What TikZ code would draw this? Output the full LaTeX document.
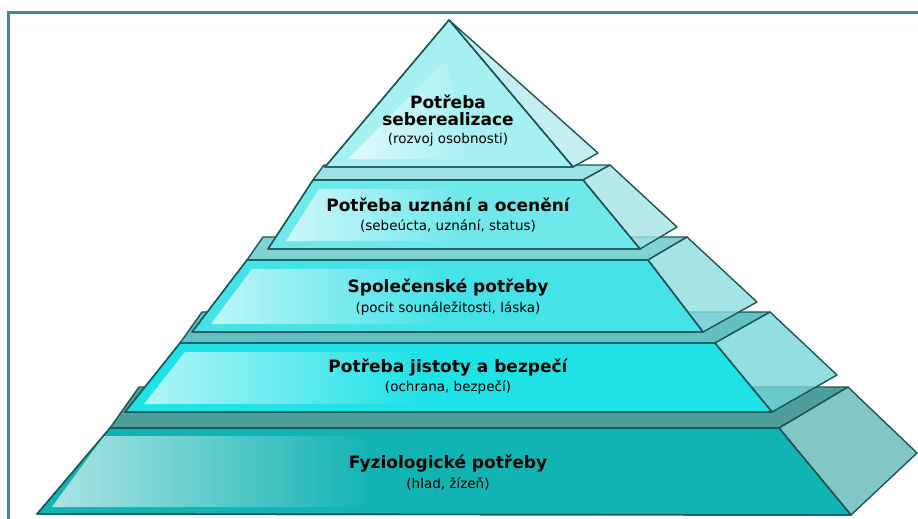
\documentclass[tikz,border=0pt]{standalone}
\usepackage{fontspec}
\usepackage{tikz}
\setmainfont{DejaVu Sans}
\definecolor{rim}{HTML}{1D5656}
\definecolor{framecol}{HTML}{3A8A9C}
\definecolor{frontA}{HTML}{12B3B3}
\definecolor{frontB}{HTML}{1FE2E6}
\definecolor{frontC}{HTML}{45E3E8}
\definecolor{frontD}{HTML}{6FE8EC}
\definecolor{frontE}{HTML}{A6F0F2}
\definecolor{sideA}{HTML}{5FB6B6}
\definecolor{sideB}{HTML}{72D6D8}
\definecolor{sideC}{HTML}{8ADCDE}
\definecolor{sideD}{HTML}{A3E2E4}
\definecolor{sideE}{HTML}{B3E9EB}
\definecolor{topA}{HTML}{4E9E9B}
\definecolor{topB}{HTML}{63C0C0}
\definecolor{topC}{HTML}{80D3D4}
\definecolor{topD}{HTML}{9DE2E4}

\begin{document}
\begin{tikzpicture}[x=1pt, y=-1pt,
  face/.style={draw=rim, line width=1.4pt, line join=round},
  side/.style={face, fill opacity=0.78},
  glow/.style={left color=#1!35!white, right color=#1},
  title/.style={font=\bfseries\fontsize{17}{17}\selectfont, align=center, inner sep=0pt},
  sub/.style={font=\fontsize{13.5}{15}\selectfont, inner sep=0pt},
  frame/.style={draw=framecol, line width=2.6pt}]
\useasboundingbox (0,0) rectangle (918,519);
\draw[frame] (8.5,519) -- (8.5,12.5) -- (918,12.5);

% level 1
\fill[face, fill=topA] (110,428) -- (779,428) -- (848,387) -- (139,387) -- cycle;
\fill[side, fill=sideA] (779,428) -- (851,515) -- (917,453) -- (848,387) -- cycle;
\fill[face, fill=frontA] (110,428) -- (779,428) -- (851,515) -- (37,514) -- cycle;
\shade[glow=frontA] (104,436) -- (370,436) -- (370,507) -- (52,507) -- cycle;
\draw[face] (110,428) -- (779,428) -- (851,515) -- (37,514) -- cycle;

% level 2
\fill[face, fill=topB] (180,343) -- (715,343) -- (770,312) -- (202,312) -- cycle;
\fill[side, fill=sideB] (715,343) -- (772,412) -- (837,375) -- (770,312) -- cycle;
\fill[face, fill=frontB] (180,343) -- (715,343) -- (772,412) -- (125,412) -- cycle;
\shade[glow=frontB] (185,352) -- (420,352) -- (420,404) -- (144,404) -- cycle;
\draw[face] (180,343) -- (715,343) -- (772,412) -- (125,412) -- cycle;

% level 3
\fill[face, fill=topC] (247,260) -- (648,260) -- (687,237) -- (263,237) -- cycle;
\fill[side, fill=sideC] (648,260) -- (703,332) -- (757,302) -- (687,237) -- cycle;
\fill[face, fill=frontC] (247,260) -- (648,260) -- (703,332) -- (192,332) -- cycle;
\shade[glow=frontC] (252,269) -- (440,269) -- (440,324) -- (211,324) -- cycle;
\draw[face] (247,260) -- (648,260) -- (703,332) -- (192,332) -- cycle;

% level 4
\fill[face, fill=topD] (313,180) -- (583,180) -- (610,165) -- (324,165) -- cycle;
\fill[side, fill=sideD] (583,180) -- (640,249) -- (677,227) -- (610,165) -- cycle;
\fill[face, fill=frontD] (313,180) -- (583,180) -- (640,249) -- (268,249) -- cycle;
\shade[glow=frontD] (319,189) -- (460,189) -- (460,241) -- (286,241) -- cycle;
\draw[face] (313,180) -- (583,180) -- (640,249) -- (268,249) -- cycle;

% level 5
\fill[side, fill=sideE] (449,20) -- (573,167) -- (598,153) -- cycle;
\fill[face, fill=frontE] (449,20) -- (573,167) -- (325,167) -- cycle;
\shade[glow=frontE] (446,60) -- (470,159) -- (348,159) -- cycle;
\draw[face] (449,20) -- (573,167) -- (325,167) -- cycle;

\node[title] (selfT) at (448,110) {Potřeba\\seberealizace};
\node[sub] (selfS) at (448,140) {(rozvoj osobnosti)};
\node[title] (esteemT) at (448,205) {Potřeba uznání a ocenění};
\node[sub] (esteemS) at (448,226) {(sebeúcta, uznání, status)};
\node[title] (socialT) at (448,288) {Společenské potřeby};
\node[sub] (socialS) at (448,309) {(pocit sounáležitosti, láska)};
\node[title] (safetyT) at (448,368) {Potřeba jistoty a bezpečí};
\node[sub] (safetyS) at (448,388) {(ochrana, bezpečí)};
\node[title] (bodyT) at (448,464) {Fyziologické potřeby};
\node[sub] (bodyS) at (448,484) {(hlad, žízeň)};
\end{tikzpicture}
\end{document}
